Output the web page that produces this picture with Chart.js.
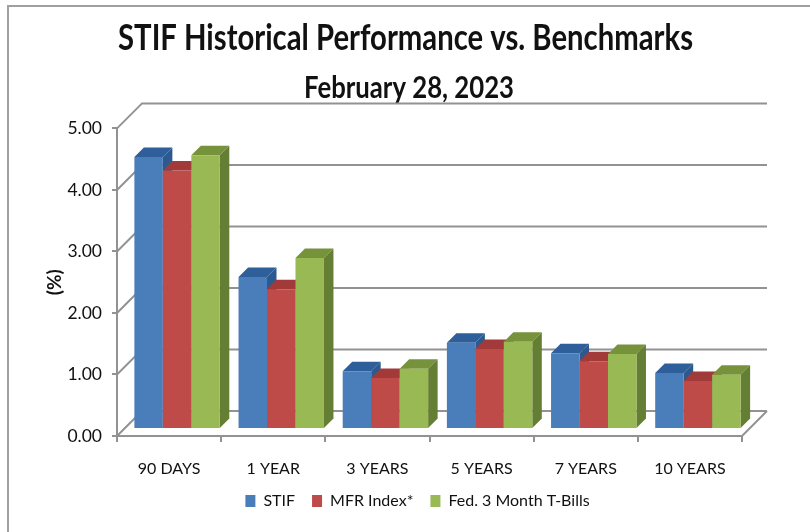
<!DOCTYPE html>
<html>
<head>
<meta charset="utf-8">
<script src="https://cdn.jsdelivr.net/npm/chart.js@4"></script>
<style>
  body { margin: 0; background: #fff; }
</style>
</head>
<body>
<canvas id="chartStif" width="810" height="532"></canvas>
<script>
const categories = ['90 DAYS', '1 YEAR', '3 YEARS', '5 YEARS', '7 YEARS', '10 YEARS'];
const stifValues = [4.42, 2.47, 0.94, 1.40, 1.23, 0.91];
const mfrValues = [4.20, 2.27, 0.83, 1.30, 1.10, 0.78];
const tbillValues = [4.45, 2.78, 0.98, 1.42, 1.22, 0.88];
const yTicks = [0, 1, 2, 3, 4, 5];
const titleText = 'STIF Historical Performance vs. Benchmarks';
const subtitleText = 'February 28, 2023';

const fontName = 'Lato, "Liberation Sans", sans-serif';
const gridColor = '#929292';
const textColor = '#111111';

// excel style 3D look: back wall offset and bar depth
const wallDepth = 25;
const barShiftX = 8;
const barShiftY = -7;
const barDepth = 9.5;

const wall3d = {
    id: 'wall3d',
    beforeInit: function (chart) {
        // reference font is narrower than Lato
        chart.ctx.letterSpacing = '-1.4px';
    },
    afterLayout: function (chart) {
        // squeeze the titles into the width they have in the picture
        for (let b of chart.boxes) {
            if (b.options && b.options.text === titleText) {
                b.left = 118;
                b.right = 693;
            }
            if (b.options && b.options.text === subtitleText) {
                b.left = 304;
                b.right = 514;
            }
        }
        chart.legend.left += 25;
        chart.legend.right += 25;
    },
    beforeDraw: function (chart) {
        // picture frame, only top and left are visible
        const ctx = chart.ctx;
        ctx.save();
        ctx.strokeStyle = '#a0a0a0';
        ctx.lineWidth = 2;
        ctx.beginPath();
        ctx.moveTo(8, 532);
        ctx.lineTo(8, 6);
        ctx.lineTo(810, 6);
        ctx.stroke();
        ctx.restore();
    },
    beforeDatasetsDraw: function (chart) {
        const ctx = chart.ctx;
        const yScale = chart.scales.y;
        const area = chart.chartArea;
        ctx.save();
        ctx.strokeStyle = gridColor;
        ctx.lineWidth = 2;
        for (let v of yTicks) {
            let py = yScale.getPixelForValue(v);
            ctx.beginPath();
            ctx.moveTo(area.left, py);
            ctx.lineTo(area.left + wallDepth, py - wallDepth);
            ctx.lineTo(area.right + wallDepth, py - wallDepth);
            ctx.stroke();
        }
        // right edge of the floor
        ctx.beginPath();
        ctx.moveTo(area.right, area.bottom);
        ctx.lineTo(area.right + wallDepth, area.bottom - wallDepth);
        ctx.stroke();
        ctx.restore();

        // first series goes first so the next one covers its side face
        chart.data.datasets.forEach(function (ds, i) {
            let meta = chart.getDatasetMeta(i);
            ctx.save();
            ctx.translate(barShiftX, barShiftY);
            for (let bar of meta.data) {
                let half = bar.width / 2;
                let l = bar.x - half;
                let r = bar.x + half;
                ctx.fillStyle = ds.topColor;
                ctx.beginPath();
                ctx.moveTo(l, bar.y);
                ctx.lineTo(l + barDepth, bar.y - barDepth);
                ctx.lineTo(r + barDepth, bar.y - barDepth);
                ctx.lineTo(r, bar.y);
                ctx.closePath();
                ctx.fill();
                ctx.fillStyle = ds.sideColor;
                ctx.beginPath();
                ctx.moveTo(r, bar.y);
                ctx.lineTo(r + barDepth, bar.y - barDepth);
                ctx.lineTo(r + barDepth, bar.base - barDepth);
                ctx.lineTo(r, bar.base);
                ctx.closePath();
                ctx.fill();
            }
            meta.controller.draw();
            ctx.restore();
        });
        return false;
    }
};

new Chart(document.getElementById('chartStif').getContext('2d'), {
    type: 'bar',
    data: {
        labels: categories,
        datasets: [
            { label: 'STIF', data: stifValues, backgroundColor: '#4a7ebb', topColor: '#2f5f9a', sideColor: '#2c5a8e' },
            { label: 'MFR Index*', data: mfrValues, backgroundColor: '#be4b48', topColor: '#a33a3a', sideColor: '#8e3331' },
            { label: 'Fed. 3 Month T-Bills', data: tbillValues, backgroundColor: '#98b954', topColor: '#76933c', sideColor: '#647e33' }
        ]
    },
    plugins: [wall3d],
    options: {
        responsive: false,
        animation: false,
        categoryPercentage: 0.82,
        barPercentage: 1,
        layout: { padding: { left: 43, right: 68, top: 16, bottom: 13 } },
        plugins: {
            title: {
                display: true,
                text: titleText,
                color: textColor,
                font: { family: fontName, size: 37, weight: 'bold' },
                padding: { top: 0, bottom: 10 }
            },
            subtitle: {
                display: true,
                text: subtitleText,
                color: textColor,
                font: { family: fontName, size: 30, weight: 'bold' },
                padding: { top: 0, bottom: 22 }
            },
            legend: {
                position: 'bottom',
                labels: {
                    color: textColor,
                    font: { family: fontName, size: 16 },
                    boxWidth: 10,
                    boxHeight: 12,
                    padding: 17
                }
            },
            tooltip: { enabled: false }
        },
        scales: {
            x: {
                grid: { drawOnChartArea: false, color: gridColor, tickLength: 6, lineWidth: 2 },
                border: { color: gridColor, width: 2 },
                afterFit: function (scale) { scale.height = 40; },
                ticks: { color: textColor, font: { family: fontName, size: 16 }, padding: 17, maxRotation: 0 }
            },
            y: {
                min: 0,
                max: 5,
                grid: { drawOnChartArea: false, color: gridColor, tickLength: 5, lineWidth: 2 },
                border: { color: gridColor, width: 2 },
                afterFit: function (scale) { scale.width = 74; },
                afterBuildTicks: function (scale) { scale.ticks = yTicks.map(function (v) { return { value: v }; }); },
                ticks: {
                    color: textColor,
                    font: { family: fontName, size: 17.5 },
                    padding: 10,
                    callback: function (v) { return v.toFixed(2); }
                },
                title: {
                    display: true,
                    text: '(%)',
                    color: textColor,
                    font: { family: fontName, size: 19, weight: 'bold' },
                    padding: { top: 0, bottom: 0 }
                }
            }
        }
    }
});
</script>
</body>
</html>
